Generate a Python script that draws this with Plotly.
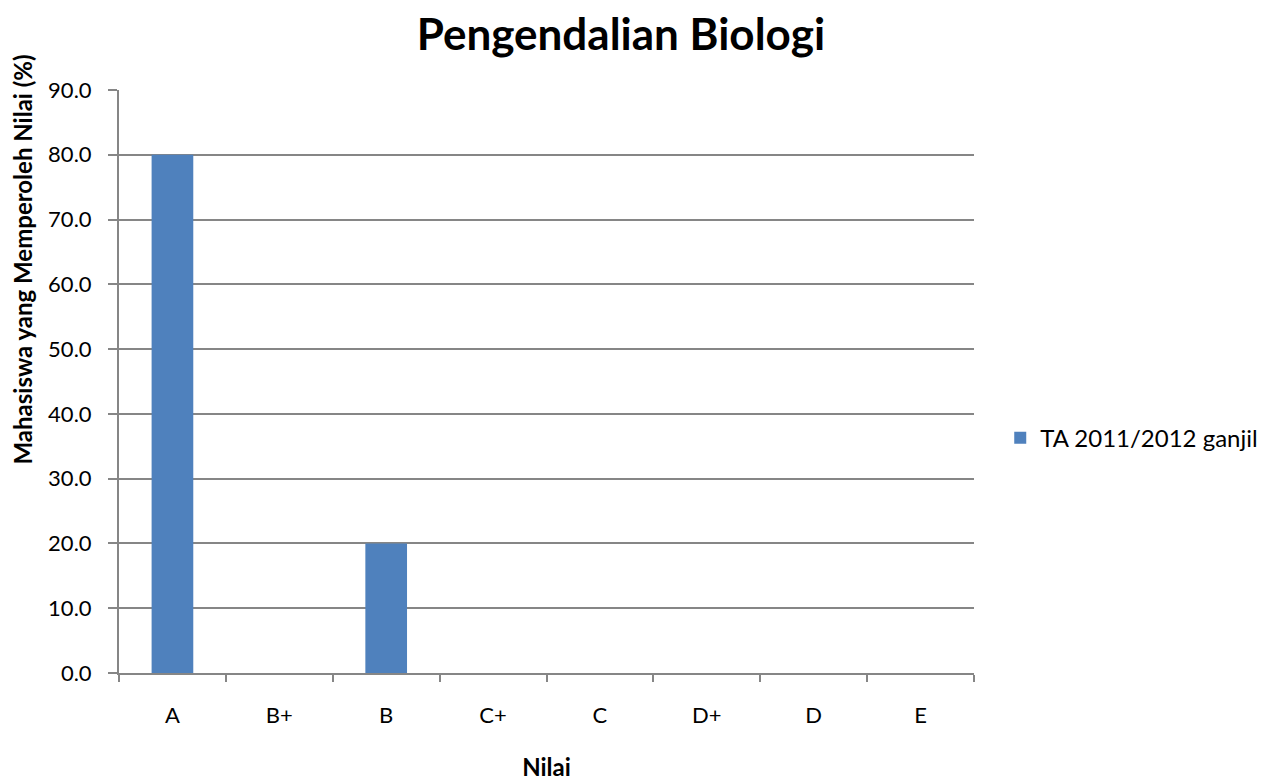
import plotly.graph_objects as go

categories = ["A", "B+", "B", "C+", "C", "D+", "D", "E"]
values = [80.0, 0.0, 20.0, 0.0, 0.0, 0.0, 0.0, 0.0]
series_name = "TA 2011/2012 ganjil"

FONT = "Lato, 'Open Sans', sans-serif"
GRID = "#868686"

# page body has an 8px default margin, so the figure is sized to fit the window
W, H = 1264, 773

fig = go.Figure()
fig.add_trace(go.Bar(
    x=categories, y=values, name=series_name,
    marker=dict(color="#4F81BD", line=dict(width=0)),
    showlegend=True,
))

fig.update_layout(
    width=W, height=H,
    margin=dict(l=111, r=298, t=82, b=108),
    paper_bgcolor="white", plot_bgcolor="white",
    font=dict(family=FONT, size=22, color="black"),
    bargap=0.61,
    title=dict(text="<b>Pengendalian Biologi</b>", x=0.587, xref="paper", xanchor="center",
               y=1 - 11 / H, yref="container", yanchor="top", pad=dict(t=0, b=0),
               font=dict(size=44, family=FONT, color="black")),
    legend=dict(xref="container", yref="paper", x=0.785, xanchor="left", y=0.403, yanchor="middle",
                font=dict(size=24, family=FONT), bgcolor="rgba(0,0,0,0)",
                itemwidth=30),
    xaxis=dict(
        type="category", showgrid=False, showline=True, linecolor=GRID, linewidth=2,
        ticks="outside", tickson="boundaries", ticklen=7, tickcolor=GRID, tickwidth=2,
        tickfont=dict(size=22), ticklabelstandoff=22, automargin=False,
        title=dict(text="<b>Nilai</b>", font=dict(size=24), standoff=38),
    ),
    yaxis=dict(
        range=[0, 90], dtick=10, tickformat=".1f",
        showgrid=True, gridcolor=GRID, gridwidth=1.5,
        showline=True, linecolor=GRID, linewidth=2,
        ticks="outside", ticklen=9, tickcolor=GRID, tickwidth=2,
        tickfont=dict(size=22), zeroline=False, automargin=False,
        ticklabelstandoff=12,
    ),
    annotations=[dict(
        text="<b>Mahasiswa yang Memperoleh Nilai (%)</b>", textangle=-90,
        xref="paper", yref="paper", x=-0.1140, y=0.7084,
        xanchor="center", yanchor="middle", showarrow=False, borderpad=0,
        font=dict(size=24, family=FONT, color="black"),
    )],
)

fig.write_html("out.html")
